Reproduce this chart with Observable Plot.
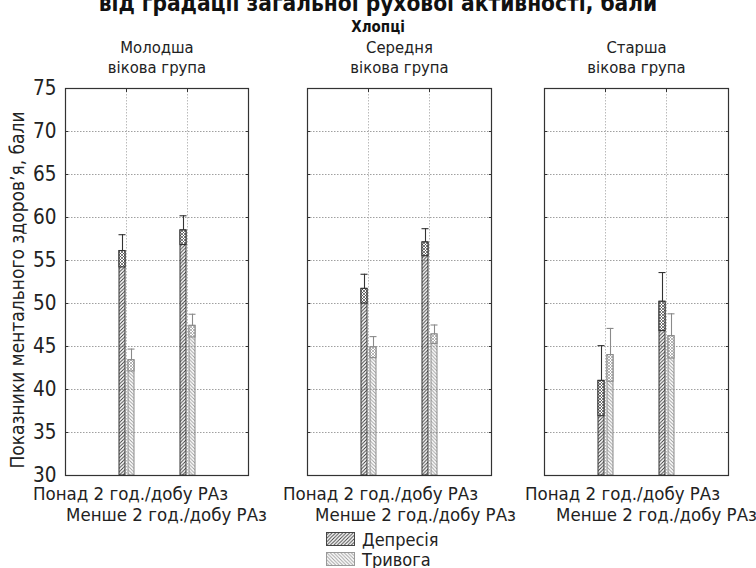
<!DOCTYPE html>
<html>
<head>
<meta charset="utf-8">
<script src="https://cdn.jsdelivr.net/npm/d3@7"></script>
<script src="https://cdn.jsdelivr.net/npm/@observablehq/plot@0.6"></script>
<style>
  body { margin: 0; background: #fff; }
  #root { position: relative; width: 756px; height: 568px; overflow: hidden; background: #fff;
          font-family: "DejaVu Sans Condensed", "Liberation Sans Narrow", "Liberation Sans", Arial, sans-serif; color: #222; }
  .abs { position: absolute; }
  #title { left: 0; width: 756px; top: -10px; text-align: center; font-weight: bold; font-size: 22.5px; line-height: 26px; white-space: nowrap; color: #111; }
  #sub { left: 0; width: 756px; top: 18px; text-align: center; font-weight: bold; font-size: 15px; line-height: 18px; color: #111; }
  .leg { display: flex; align-items: center; font-size: 18px; height: 20px; }
  .leg svg { margin-right: 7px; }
</style>
</head>
<body>
<svg width="0" height="0" style="position:absolute">
  <defs>
    <pattern id="hatchDep" patternUnits="userSpaceOnUse" width="3.5" height="3.5">
      <path d="M0,3.5 L3.5,0 M-1,1 L1,-1 M2.5,4.5 L4.5,2.5" stroke="#333" stroke-width="0.9"/>
    </pattern>
    <pattern id="hatchAnx" patternUnits="userSpaceOnUse" width="3.5" height="3.5">
      <path d="M0,0 L3.5,3.5 M-1,2.5 L1,4.5 M2.5,-1 L4.5,1" stroke="#999" stroke-width="0.9"/>
    </pattern>
    <pattern id="crossDep" patternUnits="userSpaceOnUse" width="3" height="3">
      <rect width="3" height="3" fill="#fff"/>
      <path d="M0,3 L3,0 M0,0 L3,3" stroke="#444" stroke-width="0.7"/>
    </pattern>
    <pattern id="crossAnx" patternUnits="userSpaceOnUse" width="3" height="3">
      <rect width="3" height="3" fill="#fff"/>
      <path d="M0,3 L3,0 M0,0 L3,3" stroke="#999" stroke-width="0.7"/>
    </pattern>
  </defs>
</svg>
<div id="root">
  <div id="title" class="abs">від градації загальної рухової активності, бали</div>
  <div id="sub" class="abs">Хлопці</div>
  <div id="legend" class="abs" style="left:326px; top:529px;"></div>
</div>
<script>
// ---- data ----
const groups = ["Молодша\nвікова група", "Середня\nвікова група", "Старша\nвікова група"];
const categories = ["Понад 2 год./добу РАз", "Менше 2 год./добу РАз"];
const seriesNames = ["Депресія", "Тривога"];
// values per group, in order [Понад, Менше]
const depression    = [[56.1, 58.5], [51.7, 57.1], [41.0, 50.2]];
const depressionErr = [[1.9, 1.7],   [1.7, 1.6],   [4.1, 3.4]];
const anxiety       = [[43.4, 47.4], [44.9, 46.4], [44.0, 46.2]];
const anxietyErr    = [[1.3, 1.35],  [1.25, 1.1],  [3.1, 2.6]];
const yTicks = [30, 35, 40, 45, 50, 55, 60, 65, 70, 75];
const yLabel = "Показники ментального здоров’я, бали";

// ---- layout (styling) ----
const panelLayout = [
  {left: 0,   width: 278, ml: 65, mr: 30, dxA: 4,  dxB: -21},
  {left: 278, width: 242, ml: 29, mr: 29, dxA: 12, dxB: -14},
  {left: 520, width: 236, ml: 24, mr: 28, dxA: 17, dxB: -10}
];
const seriesStyle = [
  {fill: "url(#hatchDep)", cross: "url(#crossDep)", stroke: "#333", dx: -4},
  {fill: "url(#hatchAnx)", cross: "url(#crossAnx)", stroke: "#8a8a8a", dx: 5}
];
const font = '"DejaVu Sans Condensed", "Liberation Sans Narrow", "Liberation Sans", Arial, sans-serif';

const root = document.getElementById("root");

groups.forEach((g, gi) => {
  const L = panelLayout[gi];
  const marks = [
    Plot.gridY(yTicks.slice(1, -1), {stroke: "#888", strokeOpacity: 1, strokeWidth: 0.8, strokeDasharray: "1.5,1.5"}),
    Plot.gridX(categories, {stroke: "#aaa", strokeOpacity: 1, strokeWidth: 0.8, strokeDasharray: "1.5,1.5"})
  ];
  [depression, anxiety].forEach((vals, si) => {
    const errs = si === 0 ? depressionErr : anxietyErr;
    const S = seriesStyle[si];
    const rows = categories.map((c, ci) => ({cat: c, value: vals[gi][ci], err: errs[gi][ci], series: seriesNames[si]}));
    marks.push(
      Plot.barY(rows, {x: "cat", y1: yTicks[0], y2: "value", dx: S.dx, fill: S.fill, stroke: S.stroke, strokeWidth: 1}),
      Plot.barY(rows, {x: "cat", y1: d => d.value - d.err, y2: "value", dx: S.dx, fill: S.cross, stroke: S.stroke, strokeWidth: 1.1}),
      Plot.ruleX(rows, {x: "cat", y1: "value", y2: d => d.value + d.err, dx: S.dx, stroke: S.stroke, strokeWidth: 1.1}),
      Plot.tickY(rows, {x: "cat", y: d => d.value + d.err, dx: S.dx, stroke: S.stroke, strokeWidth: 1.1, insetLeft: -0.5, insetRight: -0.5})
    );
  });
  marks.push(
    Plot.frame({stroke: "#333", strokeWidth: 1.2}),
    Plot.axisY(yTicks, {anchor: "left", tickSize: -3, tickFormat: () => "", label: null, stroke: "#333"}),
    Plot.axisY(yTicks, {anchor: "right", tickSize: -3, tickFormat: () => "", label: null, stroke: "#333"}),
    Plot.axisX(categories, {anchor: "top", tickSize: -3, tickFormat: () => "", label: null, stroke: "#333"}),
    Plot.text([g], {frameAnchor: "top", lineAnchor: "bottom", dy: -16, fontSize: 16.5, lineHeight: 1.2, fill: "#222"}),
    Plot.text([categories[0]], {x: d => d, frameAnchor: "bottom", lineAnchor: "bottom", dy: 24, dx: L.dxA, fontSize: 18.5, fill: "#222"}),
    Plot.text([categories[1]], {x: d => d, frameAnchor: "bottom", lineAnchor: "bottom", dy: 45, dx: L.dxB, fontSize: 18.5, fill: "#222"})
  );
  if (gi === 0) {
    marks.push(
      Plot.axisY(yTicks, {anchor: "left", tickSize: 0, tickPadding: 9, fontSize: 20.5, label: null, fill: "#222"}),
      Plot.text([yLabel], {frameAnchor: "left", rotate: -90, textAnchor: "middle", lineAnchor: "middle",
        dx: -48, dy: 8, fontSize: 19, fill: "#222"})
    );
  }
  const chart = Plot.plot({
    width: L.width, height: 568,
    marginTop: 88, marginBottom: 93, marginLeft: L.ml, marginRight: L.mr,
    style: {background: "transparent", fontFamily: font, fontSize: "20px", color: "#222", overflow: "visible"},
    x: {type: "band", domain: categories, paddingInner: 0.9, paddingOuter: 0.95, axis: null},
    y: {domain: [yTicks[0], yTicks[yTicks.length - 1]], axis: null},
    marks
  });
  chart.style.position = "absolute";
  chart.style.left = L.left + "px";
  chart.style.top = "0px";
  root.appendChild(chart);
});

// legend
const legend = document.getElementById("legend");
seriesNames.forEach((name, si) => {
  const row = document.createElement("div");
  row.className = "leg";
  row.innerHTML = `<svg width="29" height="14"><rect x="0.5" y="0.5" width="28" height="13" fill="${seriesStyle[si].fill}" stroke="${si === 0 ? '#444' : '#999'}"/></svg><span>${name}</span>`;
  legend.appendChild(row);
});
</script>
</body>
</html>
